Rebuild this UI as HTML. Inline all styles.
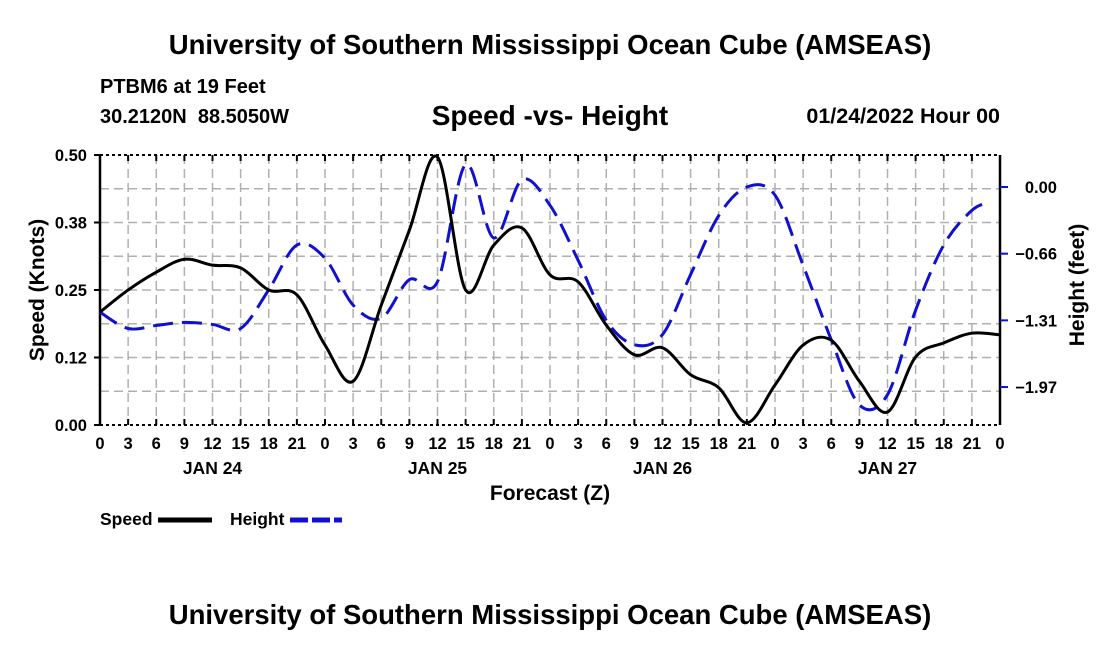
<!DOCTYPE html>
<html><head><meta charset="utf-8"><style>
body{margin:0;background:#fff}
svg{display:block;font-family:"Liberation Sans",Arial,sans-serif;font-weight:bold}
</style></head><body>
<svg id="c" width="1100" height="650" viewBox="0 0 1100 650">
<text x="550" y="54" font-size="27.5" text-anchor="middle">University of Southern Mississippi Ocean Cube (AMSEAS)</text>
<text x="100" y="93" font-size="20">PTBM6 at 19 Feet</text>
<text x="100" y="123" font-size="20" xml:space="preserve" style="white-space:pre">30.2120N  88.5050W</text>
<text x="550" y="125" font-size="28" text-anchor="middle">Speed -vs- Height</text>
<text x="1000" y="123" font-size="21.5" text-anchor="end">01/24/2022 Hour 00</text>
<g id="grid"></g>
<g id="axes"></g>
<g id="series"></g>
<text x="550" y="500" font-size="21" text-anchor="middle">Forecast (Z)</text>
<text transform="translate(44,290) rotate(-90)" font-size="21" text-anchor="middle">Speed (Knots)</text>
<text transform="translate(1084,285) rotate(-90)" font-size="21" text-anchor="middle">Height (feet)</text>
<g>
<text x="100" y="525" font-size="17.5">Speed</text>
<line x1="158" y1="520" x2="212" y2="520" stroke="#000" stroke-width="5"/>
<text x="230" y="525" font-size="17.5">Height</text>
<line x1="290" y1="520" x2="342" y2="520" stroke="#1010d0" stroke-width="5" stroke-dasharray="18,4"/>
</g>
<text x="550" y="624" font-size="27.5" text-anchor="middle">University of Southern Mississippi Ocean Cube (AMSEAS)</text>
</svg>
<script>
const hourLabels=["0","3","6","9","12","15","18","21"];
const dayLabels=["JAN 24","JAN 25","JAN 26","JAN 27"];
const speedTicks=[0,0.125,0.25,0.375,0.5];
const speedTickLabels=["0.00","0.12","0.25","0.38","0.50"];
const heightTicks=[0,-0.655,-1.31,-1.965];
const heightTickLabels=["0.00","−0.66","−1.31","−1.97"];
const speedHours=[0,3,6,9,12,15,18,21,24,27,30,33,36,39,42,45,48,51,54,57,60,63,66,69,72,75,78,81,84,87,90,93,96];
const speedValues=[0.209,0.250,0.283,0.307,0.296,0.291,0.250,0.241,0.148,0.081,0.222,0.361,0.496,0.250,0.333,0.365,0.278,0.265,0.185,0.130,0.143,0.093,0.069,0.004,0.074,0.148,0.157,0.081,0.024,0.126,0.152,0.170,0.167];
const heightHours=[0,3,6,9,12,15,18,21,24,27,30,33,36,39,42,45,48,51,54,57,60,63,66,69,72,75,78,81,84,87,90,93,95];
const heightValues=[-1.23,-1.39,-1.36,-1.33,-1.35,-1.39,-1.01,-0.57,-0.70,-1.16,-1.29,-0.91,-0.93,0.22,-0.50,0.07,-0.18,-0.72,-1.31,-1.55,-1.45,-0.86,-0.28,0.00,-0.08,-0.77,-1.50,-2.14,-2.04,-1.21,-0.57,-0.23,-0.15];

const L=100,R=1000,T=155,B=425;
const x=h=>L+(h/96)*(R-L);
const yS=v=>B-(v/0.5)*(B-T);
const yH=v=>187-v*101.8;
const NS="http://www.w3.org/2000/svg";
function mk(tag,attrs,parent){const e=document.createElementNS(NS,tag);for(const k in attrs)e.setAttribute(k,attrs[k]);parent.appendChild(e);return e;}
const grid=document.getElementById('grid'),axes=document.getElementById('axes'),ser=document.getElementById('series');
for(let i=1;i<32;i++){const g=mk('line',{x1:x(i*3),x2:x(i*3),y1:T,y2:B,stroke:'#b0b0b0','stroke-width':1.5,'stroke-dasharray':'9,5'},grid);

}
for(let i=1;i<8;i++){const g=mk('line',{x1:L,x2:R,y1:yS(i*0.0625),y2:yS(i*0.0625),stroke:'#b0b0b0','stroke-width':1.5,'stroke-dasharray':'9,5'},grid);

}
[[L,T,L,B],[R,T,R,B]].forEach(a=>{const l=mk('line',{x1:a[0],y1:a[1],x2:a[2],y2:a[3],stroke:'#000','stroke-width':2.5},axes);

});
[T,B].forEach(yy=>{const l=mk('line',{x1:L,y1:yy,x2:R,y2:yy,stroke:'#000','stroke-width':2,'stroke-dasharray':'3,3'},axes);

});
for(let i=0;i<=32;i++){
 const xx=x(i*3);
 mk('line',{x1:xx,x2:xx,y1:B,y2:B-6,stroke:'#000','stroke-width':2},axes);
 mk('line',{x1:xx,x2:xx,y1:T,y2:T+6,stroke:'#000','stroke-width':2},axes);
 const t=mk('text',{x:xx,y:449,'font-size':16.5,'text-anchor':'middle'},axes);t.textContent=hourLabels[i%8];
 
 
}
dayLabels.forEach((d,i)=>{const t=mk('text',{x:x(12+24*i),y:474,'font-size':17.5,'text-anchor':'middle'},axes);t.textContent=d;

});
speedTicks.forEach((v,i)=>{mk('line',{x1:L-6,x2:L,y1:yS(v),y2:yS(v),stroke:'#000','stroke-width':2},axes);
 const t=mk('text',{x:87,y:yS(v)+6,'font-size':16.5,'text-anchor':'end'},axes);t.textContent=speedTickLabels[i];
 
 });
heightTicks.forEach((v,i)=>{mk('line',{x1:R,x2:R+8,y1:yH(v),y2:yH(v),stroke:'#1010d0','stroke-width':2},axes);
 const t=mk('text',{x:1057,y:yH(v)+6,'font-size':16.5,'text-anchor':'end'},axes);t.textContent=heightTickLabels[i];
 
 });
function smooth(pts){let d=`M${pts[0][0]},${pts[0][1]}`;for(let i=0;i<pts.length-1;i++){const p0=pts[i-1]||pts[i],p1=pts[i],p2=pts[i+1],p3=pts[i+2]||p2;
 d+=` C${p1[0]+(p2[0]-p0[0])/6},${p1[1]+(p2[1]-p0[1])/6} ${p2[0]-(p3[0]-p1[0])/6},${p2[1]-(p3[1]-p1[1])/6} ${p2[0]},${p2[1]}`;}return d;}
const hp=mk('path',{d:smooth(heightHours.map((h,i)=>[x(h),yH(heightValues[i])])),fill:'none',stroke:'#1010d0','stroke-width':3,'stroke-dasharray':'20,9'},ser);


const sp=mk('path',{d:smooth(speedHours.map((h,i)=>[x(h),yS(speedValues[i])])),fill:'none',stroke:'#000','stroke-width':3},ser);


</script>
</body></html>
